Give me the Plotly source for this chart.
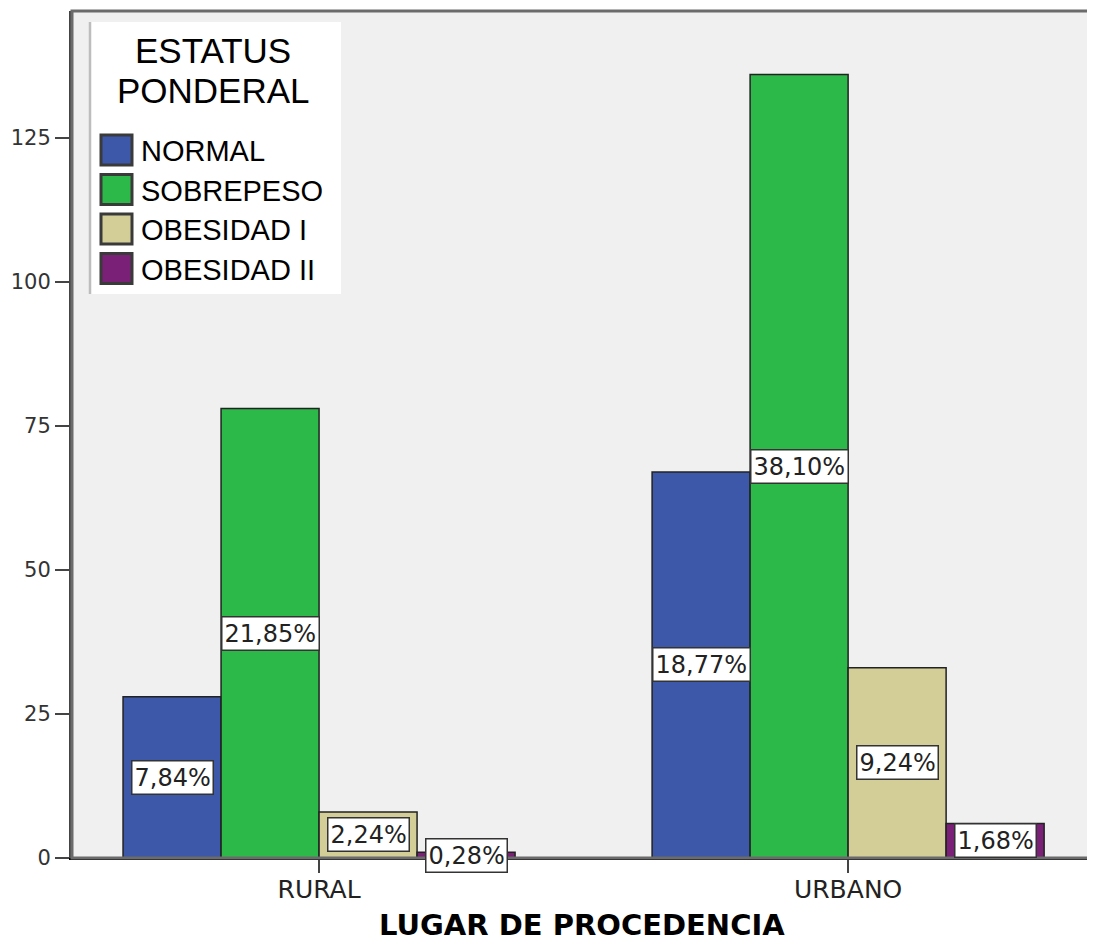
import plotly.graph_objects as go

# Data (counts per group)
lugares = ["RURAL", "URBANO"]
estatus = ["NORMAL", "SOBREPESO", "OBESIDAD I", "OBESIDAD II"]
normal = [28, 67]
sobrepeso = [78, 136]
obesidad_1 = [8, 33]
obesidad_2 = [1, 6]
y_ticks = [0, 25, 50, 75, 100, 125]

series = [normal, sobrepeso, obesidad_1, obesidad_2]
colors = ["#3d57a9", "#2db84a", "#d3ce97", "#7a2177"]
total = sum(sum(s) for s in series)

# the page puts the figure 8px in from the top-left corner
OFF = 8
W, H = 1095 - OFF, 944 - OFF
L, R, T, B = 72 - OFF, 3, 11 - OFF, 944 - 858
BARGAP = 0.259
bar_w = (1 - BARGAP) / len(series)


def px_x(p):
    # page pixel -> paper coordinate
    return (p - OFF - L) / (W - L - R)


def px_y(p):
    return (H - B - (p - OFF)) / (H - T - B)


fig = go.Figure()
for name, vals, col in zip(estatus, series, colors):
    fig.add_trace(
        go.Bar(
            name=name,
            x=lugares,
            y=vals,
            marker=dict(color=col, line=dict(color="#222222", width=1.5)),
            showlegend=False,
        )
    )

# percentage boxes at the middle of every bar
annotations = []
for j, vals in enumerate(series):
    for i, v in enumerate(vals):
        pct = f"{100 * v / total:.2f}".replace(".", ",") + "%"
        annotations.append(
            dict(
                x=i + (j - 1.5) * bar_w,
                y=max(v / 2, 0.5),
                xref="x",
                yref="y",
                text=pct,
                showarrow=False,
                font=dict(family="DejaVu Sans", size=24, color="#222222"),
                bgcolor="white",
                bordercolor="#333333",
                borderwidth=1.5,
                borderpad=2,
            )
        )

# hand-made legend (big swatches like the original)
shapes = [
    dict(type="rect", xref="paper", yref="paper", x0=0, x1=1, y0=0, y1=1,
         line=dict(color="#6b6b6b", width=3), layer="above"),
    dict(type="rect", xref="paper", yref="paper",
         x0=px_x(89), x1=px_x(341), y0=px_y(294), y1=px_y(22),
         fillcolor="white", line=dict(width=0), layer="above"),
    dict(type="line", xref="paper", yref="paper",
         x0=px_x(90), x1=px_x(90), y0=px_y(294), y1=px_y(22),
         line=dict(color="#bdbdbd", width=2.5), layer="above"),
]
for title_line, cy in [("ESTATUS", 50), ("PONDERAL", 90)]:
    annotations.append(
        dict(x=px_x(213), y=px_y(cy), xref="paper", yref="paper",
             text=title_line, showarrow=False, xanchor="center", yanchor="middle",
             height=38,
             font=dict(family="Liberation Sans", size=35, color="black"))
    )
for k, (name, col) in enumerate(zip(estatus, colors)):
    cy = 150 + k * 39.5
    shapes.append(
        dict(type="rect", xref="paper", yref="paper",
             x0=px_x(101), x1=px_x(132), y0=px_y(cy + 15), y1=px_y(cy - 15),
             fillcolor=col, line=dict(color="#3a3a3a", width=3), layer="above")
    )
    annotations.append(
        dict(x=px_x(139), y=px_y(cy + 1), xref="paper", yref="paper",
             text=name, showarrow=False, xanchor="left", yanchor="middle",
             font=dict(family="Liberation Sans", size=29, color="black"))
    )

# axis title placed like the original
annotations.append(
    dict(x=0.5, y=px_y(925), xref="paper", yref="paper",
         text="<b>LUGAR DE PROCEDENCIA</b>", showarrow=False,
         xanchor="center", yanchor="middle", height=28,
         font=dict(family="DejaVu Sans", size=29, color="black"))
)

fig.update_layout(
    width=W,
    height=H,
    margin=dict(l=L, r=R, t=T, b=B),
    barmode="group",
    bargap=BARGAP,
    bargroupgap=0,
    plot_bgcolor="#f0f0f0",
    paper_bgcolor="white",
    shapes=shapes,
    annotations=annotations,
)
fig.update_xaxes(
    type="category",
    range=[-0.467, 1.461],
    showline=True,
    linecolor="black",
    linewidth=1.5,
    ticks="outside",
    ticklen=13,
    tickwidth=2,
    tickcolor="#444444",
    ticklabelstandoff=-5,
    tickfont=dict(family="DejaVu Sans", size=25, color="#222222"),
    showgrid=False,
)
fig.update_yaxes(
    range=[0, 147],
    tickvals=y_ticks,
    showline=True,
    linecolor="#444444",
    linewidth=3,
    ticks="outside",
    ticklen=14,
    tickwidth=2,
    tickcolor="#444444",
    tickfont=dict(family="DejaVu Sans", size=21, color="#333333"),
    showgrid=False,
    zeroline=False,
)

fig.write_html("out.html")
